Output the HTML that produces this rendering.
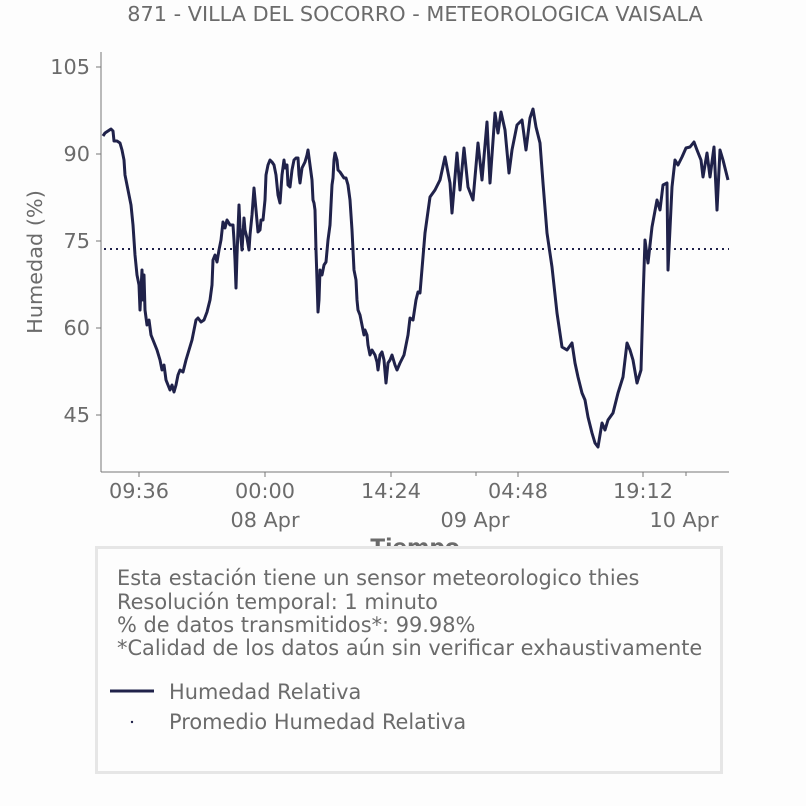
<!DOCTYPE html>
<html><head><meta charset="utf-8"><style>
html,body{margin:0;padding:0;background:#fdfdfd;}
svg{display:block;font-family:"DejaVu Sans","Liberation Sans",sans-serif;}
</style></head><body>
<svg width="806" height="806" viewBox="0 0 806 806" xmlns="http://www.w3.org/2000/svg">
<rect width="806" height="806" fill="#fdfdfd"/>
<text x="415" y="21" font-size="20.8" fill="#6b6b6b" text-anchor="middle">871 - VILLA DEL SOCORRO - METEOROLOGICA VAISALA</text>
<line x1="101" y1="52" x2="101" y2="472" stroke="#777" stroke-width="1"/>
<line x1="101" y1="472" x2="729" y2="472" stroke="#777" stroke-width="1"/>
<g stroke="#777" stroke-width="1">
<line x1="96" y1="67" x2="101" y2="67"/><line x1="96" y1="154" x2="101" y2="154"/><line x1="96" y1="241" x2="101" y2="241"/><line x1="96" y1="328" x2="101" y2="328"/><line x1="96" y1="415" x2="101" y2="415"/>
<line x1="139" y1="472" x2="139" y2="477"/><line x1="265" y1="472" x2="265" y2="477"/><line x1="391" y1="472" x2="391" y2="477"/><line x1="518" y1="472" x2="518" y2="477"/><line x1="643" y1="472" x2="643" y2="477"/>
<line x1="476" y1="472" x2="476" y2="476"/><line x1="686" y1="472" x2="686" y2="476"/>
</g>
<g font-size="20.8" fill="#6b6b6b" text-anchor="end">
<text x="90" y="74">105</text><text x="90" y="161">90</text><text x="90" y="248">75</text><text x="90" y="335">60</text><text x="90" y="422">45</text>
</g>
<g font-size="20.8" fill="#6b6b6b" text-anchor="middle">
<text x="139" y="498">09:36</text><text x="265" y="498">00:00</text><text x="391" y="498">14:24</text><text x="518" y="498">04:48</text><text x="643" y="498">19:12</text>
<text x="265" y="527">08 Apr</text><text x="475" y="527">09 Apr</text><text x="684" y="527">10 Apr</text>
<text x="415" y="554" font-weight="bold" font-size="21.5">Tiempo</text>
</g>
<text transform="translate(42,262) rotate(-90)" font-size="20.8" fill="#6b6b6b" text-anchor="middle">Humedad (%)</text>
<line x1="104" y1="249" x2="729" y2="249" stroke="#20224a" stroke-width="2" stroke-dasharray="2,4"/>
<polyline fill="none" stroke="#20224a" stroke-width="3" stroke-linejoin="round" points="
103,136 105,133 108,131 111,129 113,131 114,141 117,141 120,143 122,150 124,160 125,175 127,185 129,195 131,205 132,215 133,225 134,240 135,255 137,275 139,285 140,310 142,270 143,300 144,275 145,310 147,325 149,320 151,335 153,340 155,345 157,350 160,360 162,370 164,365 166,380 168,385 170,390 172,385 174,392 176,385 178,375 180,370 183,372 186,360 189,350 192,340 196,320 198,318 201,322 204,320 207,312 210,300 212,285 213,260 215,255 217,262 219,250 221,240 223,222 225,228 227,220 230,225 233,225 234,240 235,260 236,288 237,255 238,230 239,205 240,228 242,250 244,218 245,230 247,238 249,250 250,235 252,215 254,188 256,210 258,232 260,230 261,220 263,220 265,200 266,175 268,165 270,160 272,162 274,165 276,175 278,195 280,203 282,175 284,160 285,168 287,165 288,185 290,187 292,170 294,160 296,158 298,158 299,175 300,183 302,168 305,162 307,155 308,150 310,165 312,180 313,200 314,203 315,210 316,250 317,280 318,312 319,300 320,270 322,275 324,265 326,262 328,240 330,225 331,205 332,185 333,178 334,160 335,153 337,160 338,170 340,172 342,175 344,178 346,178 348,185 350,200 352,230 354,270 356,280 357,300 358,310 360,315 362,325 364,335 365,330 367,335 368,345 370,355 372,350 375,355 377,362 378,370 380,355 382,352 384,360 386,383 388,363 390,360 392,355 395,365 397,370 400,363 404,355 408,335 410,318 413,320 416,300 418,292 420,293
425,233 430,197 435,190 440,180 445,157 450,183 452,213 457,153 460,190 464,148 468,187 473,200 478,143 482,180 487,122 490,183 495,113 498,133 501,112 505,130 509,173 512,150 517,125 522,120 526,150 530,118 533,109 536,127 540,143
543,183 547,233 552,267 557,313 562,347 567,350 572,343 575,363 578,377 582,393 585,400 588,417 592,433 595,443 598,447 602,423 605,430 608,420 613,413 618,393 623,377 627,343 630,350 633,360 637,383 641,370 643,300 645,240 648,263 652,227 657,200 660,210 663,185 667,183 668,270 672,187 675,160 678,165 682,157 686,148 690,147 694,142 697,150 701,160 703,177 707,153 710,177 714,147 717,210 720,150 723,160 728,180"/>
<rect x="96.5" y="547.5" width="625" height="225" fill="#fdfdfd" stroke="#e6e6e6" stroke-width="3"/>
<g font-size="20.9" fill="#6b6b6b">
<text x="117" y="585">Esta estación tiene un sensor meteorologico thies</text>
<text x="117" y="609">Resolución temporal: 1 minuto</text>
<text x="117" y="632">% de datos transmitidos*: 99.98%</text>
<text x="117" y="655">*Calidad de los datos aún sin verificar exhaustivamente</text>
<text x="169" y="699">Humedad Relativa</text>
<text x="169" y="729">Promedio Humedad Relativa</text>
</g>
<line x1="110" y1="691" x2="154" y2="691" stroke="#20224a" stroke-width="3"/>
<circle cx="132" cy="722" r="1.2" fill="#20224a"/>
</svg>
</body></html>
